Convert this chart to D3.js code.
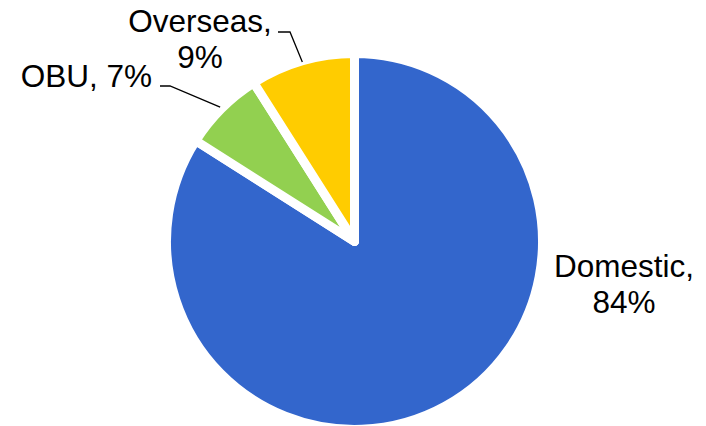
<!DOCTYPE html>
<html><head><meta charset="utf-8">
<script src="https://cdn.jsdelivr.net/npm/d3@7"></script>
<style>body{margin:0;background:#fff}svg{display:block}text{font-family:"Liberation Sans",Arial,sans-serif;fill:#000}</style>
</head><body>
<svg id="c" width="706" height="426"></svg>
<script>
const categories = ["Domestic", "OBU", "Overseas"];
const values = [84, 7, 9];
const colors = ["#3366CC", "#92D050", "#FFCC00"];

const svg = d3.select("#c");
const cx = 354.5, cy = 241.5, R = 188;
const g = svg.append("g").attr("transform", `translate(${cx},${cy})`);
const pie = d3.pie().sort(null).value(d => d.v);
const data = pie(categories.map((c, i) => ({c, v: values[i], col: colors[i]})));
const arc = d3.arc().innerRadius(0).outerRadius(R);
g.selectAll("path").data(data).join("path")
  .attr("d", arc).attr("fill", d => d.data.col)
  .attr("stroke", "#fff").attr("stroke-width", 9).attr("stroke-linejoin", "round");

const fs = 31.5;
// label layout (position of text block and leader elbow)
const labels = {
  Domestic: {x: 624, y: 277, lines: d => [d.data.c + ",", d.data.v + "%"], anchor: "middle"},
  OBU: {x: 152, y: 87, lines: d => [d.data.c + ", " + d.data.v + "%"], anchor: "end", leader: [[160, 86], [170, 86]], lr: 190},
  Overseas: {x: 200, y: 32, lines: d => [d.data.c + ",", d.data.v + "%"], anchor: "middle", leader: [[278, 32], [290, 32]], lr: 187}
};
data.forEach(d => {
  const L = labels[d.data.c];
  const t = svg.append("text").attr("text-anchor", L.anchor).style("font-size", fs + "px");
  L.lines(d).forEach((s, i) => t.append("tspan").attr("x", L.x).attr("y", L.y + i * 36).text(s));
  if (L.leader) {
    const a = (d.startAngle + d.endAngle) / 2;
    const end = [cx + L.lr * Math.sin(a), cy - L.lr * Math.cos(a)];
    svg.append("polyline").attr("points", [...L.leader, end].map(p => p.join(",")).join(" "))
      .attr("fill", "none").attr("stroke", "#000").attr("stroke-width", 1.3);
  }
});
</script>
</body></html>
